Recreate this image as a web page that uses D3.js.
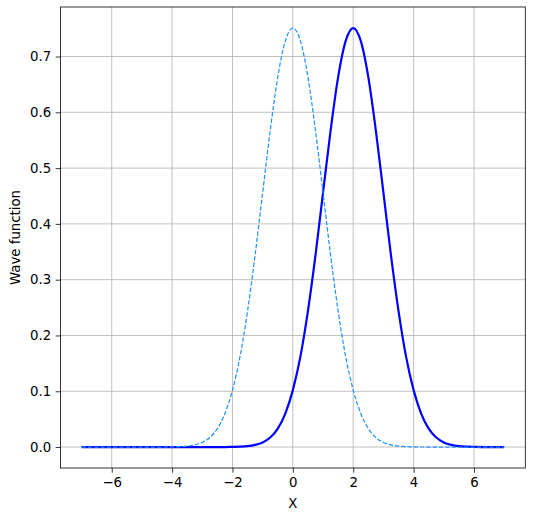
<!DOCTYPE html>
<html><head><meta charset="utf-8">
<script src="https://cdn.jsdelivr.net/npm/d3@7"></script>
<style>body{margin:0;background:#fff}svg{display:block}text{font-family:"DejaVu Sans",sans-serif}</style>
</head><body><svg id="c" width="533" height="514"></svg>
<script>
// sample positions along x
const xs = [-7,-6.5,-6,-5.5,-5,-4.5,-4,-3.75,-3.5,-3.25,-3,-2.75,-2.5,-2.25,-2,-1.75,-1.5,-1.25,-1,-0.75,-0.5,-0.25,0,0.25,0.5,0.75,1,1.25,1.5,1.75,2,2.25,2.5,2.75,3,3.25,3.5,3.75,4,4.25,4.5,4.75,5,5.25,5.5,5.75,6,6.5,7];
// dashed curve (centred at 0)
const psi0 = [0,0,0,0,0,0,0.0003,0.0007,0.0016,0.0038,0.0083,0.017,0.033,0.060,0.102,0.162,0.244,0.344,0.456,0.567,0.663,0.728,0.751,0.728,0.663,0.567,0.456,0.344,0.244,0.162,0.102,0.060,0.033,0.017,0.0083,0.0038,0.0016,0.0007,0.0003,0.0001,0,0,0,0,0,0,0,0,0];
// solid curve (centred at 2)
const psi2 = [0,0,0,0,0,0,0,0,0,0,0,0,0,0,0.0003,0.0007,0.0016,0.0038,0.0083,0.017,0.033,0.060,0.102,0.162,0.244,0.344,0.456,0.567,0.663,0.728,0.751,0.728,0.663,0.567,0.456,0.344,0.244,0.162,0.102,0.060,0.033,0.017,0.0083,0.0038,0.0016,0.0007,0.0003,0,0];
const xTicks = [-6,-4,-2,0,2,4,6];
const yTicks = [0.0,0.1,0.2,0.3,0.4,0.5,0.6,0.7];

const svg = d3.select("#c");
const L=60.4, R=525.3, T=7, B=468;
const x = d3.scaleLinear().domain([-7.7,7.7]).range([L,R]);
const y = d3.scaleLinear().domain([-0.03756,0.78876]).range([B,T]);

const g = svg.append("g");
// grid
g.selectAll(".gx").data(xTicks).join("line").attr("x1",d=>x(d)).attr("x2",d=>x(d)).attr("y1",T).attr("y2",B).attr("stroke","#b0b0b0").attr("stroke-width",0.8);
g.selectAll(".gy").data(yTicks).join("line").attr("y1",d=>y(d)).attr("y2",d=>y(d)).attr("x1",L).attr("x2",R).attr("stroke","#b0b0b0").attr("stroke-width",0.8);

const line = arr => d3.line().x((d,i)=>x(xs[i])).y(d=>y(d)).curve(d3.curveMonotoneX)(arr);
g.append("path").attr("d",line(psi2)).attr("fill","none").attr("stroke","#0000ff").attr("stroke-width",2.2);
g.append("path").attr("d",line(psi0)).attr("fill","none").attr("stroke","#1e90ff").attr("stroke-width",1.2).attr("stroke-dasharray","4.4,1.9");

// axes
const xa = svg.append("g").attr("transform",`translate(0,${B})`).call(d3.axisBottom(x).tickValues(xTicks).tickSize(4.7).tickPadding(4.5).tickFormat(d=>d<0?"\u2212"+Math.abs(d):d));
const ya = svg.append("g").attr("transform",`translate(${L},0)`).call(d3.axisLeft(y).tickValues(yTicks).tickSize(4.7).tickPadding(4.5).tickFormat(d3.format(".1f")));
[xa,ya].forEach(a=>{a.select(".domain").remove();a.selectAll("text").attr("font-size","13.3px").attr("fill","#000").style("font-family","DejaVu Sans");a.selectAll("line").attr("stroke","#000").attr("stroke-width",0.8);});
svg.append("rect").attr("x",L).attr("y",T).attr("width",R-L).attr("height",B-T).attr("fill","none").attr("stroke","#000").attr("stroke-width",0.8);

svg.append("text").attr("x",(L+R)/2).attr("y",508).attr("text-anchor","middle").attr("font-size","13.3px").text("X");
svg.append("text").attr("transform",`translate(20,${(T+B)/2}) rotate(-90)`).attr("text-anchor","middle").attr("font-size","13.3px").text("Wave function");
</script></body></html>
